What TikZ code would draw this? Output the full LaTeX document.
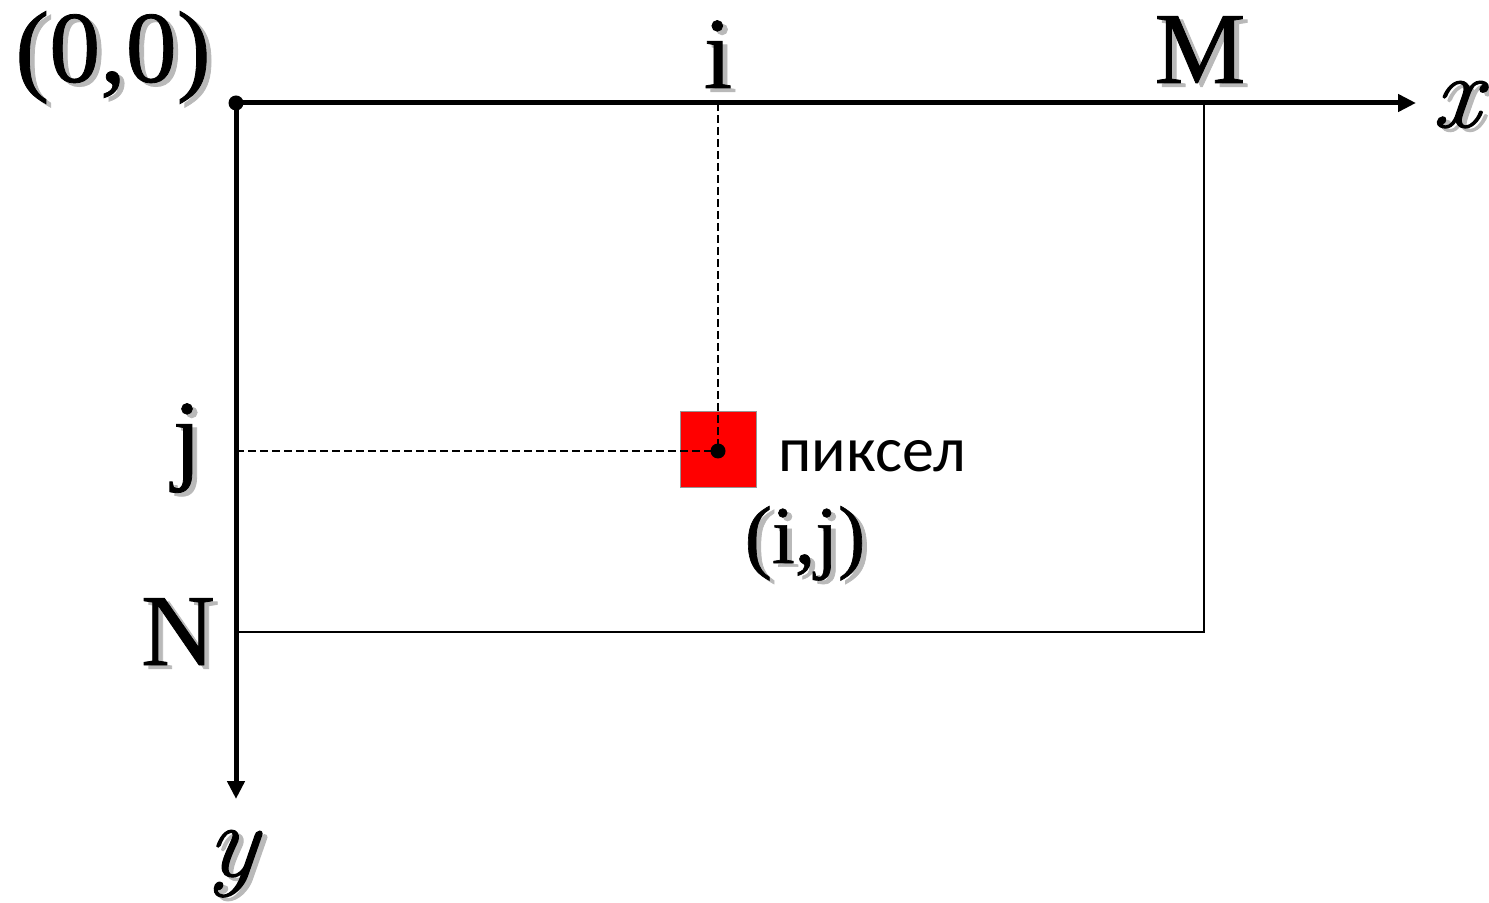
\documentclass[tikz,border=0pt]{standalone}
\usepackage{fontspec}
\setmainfont{Liberation Serif}
\newfontfamily\heavyserif[FakeBold=0.8]{Liberation Serif}
\newfontfamily\axisfont[FakeBold=1.2,FakeSlant=0.1]{Latin Modern Roman}
\newfontfamily\cyrfont{Carlito}
\usetikzlibrary{arrows.meta}
\definecolor{shgray}{RGB}{185,185,185}
\definecolor{pixred}{RGB}{255,0,0}
\definecolor{pixborder}{RGB}{150,150,150}
\newcommand\shd[1]{\rlap{\raisebox{-1.8pt}[0pt][0pt]{\hspace{2.4pt}\color{shgray}#1}}#1}
\tikzset{
  axis/.style={line width=2.5pt, -{Triangle[length=9pt,width=8.5pt]}},
  frame/.style={line width=1.3pt},
  guide/.style={line width=1.1pt, dash pattern=on 4pt off 2pt},
  lbl/.style={inner sep=0pt, anchor=base, font=\heavyserif\fontsize{51}{60}\selectfont},
  lblax/.style={inner sep=0pt, anchor=base, font=\axisfont\itshape\fontsize{52}{60}\selectfont},
  lblsmall/.style={inner sep=0pt, anchor=base, font=\heavyserif\fontsize{41}{48}\selectfont},
  cyr/.style={inner sep=0pt, anchor=base west, font=\cyrfont\fontsize{32}{38}\selectfont},
  pixel/.style={draw=pixborder, fill=pixred, line width=0.5pt, minimum size=38pt, inner sep=0pt},
  dotc/.style={circle, fill=black, inner sep=0pt, minimum size=7.5pt}
}
\begin{document}
\begin{tikzpicture}[x=0.5pt,y=-0.5pt]
\useasboundingbox (0,0) rectangle (1489,903);
\coordinate (O) at (236,103);
\coordinate (xend) at (1416,103);
\coordinate (yend) at (236,799);
\coordinate (MR) at (1204,103);
\coordinate (BR) at (1204,632);
\coordinate (NL) at (236,632);
\coordinate (itop) at (718,103);
\coordinate (jleft) at (236,451);
% frame
\draw[frame] (MR) -- (BR) -- (NL);
% pixel and dashed guides
\node[pixel] (px) at (718,450) {};
\node[dotc] (pc) at (718,451) {};
\draw[guide] (itop) -- (pc.center);
\draw[guide] (jleft) -- (pc.center);
% axes
\draw[axis] (O) -- (xend);
\draw[axis] (O) -- (yend);
\node[dotc] (od) at (O) {};
% labels
\node[lbl] (l00) at (113,82) {\shd{(0,0)}};
\node[lbl] (li) at (718,88) {\shd{i}};
\node[lbl] (lM) at (1200,83) {\shd{M}};
\node[lblax] (lx) at (1455,127) {\shd{x}};
\node[lbl] (lj) at (187,471) {\shd{j}};
\node[lbl] (lN) at (178,665) {\shd{N}};
\node[lblax] (ly) at (230,876) {\shd{y}};
\node[lblsmall] (lij) at (805,563) {\shd{(i,j)}};
\node[cyr] (lpix) at (778,472) {пиксел};
\end{tikzpicture}
\end{document}
